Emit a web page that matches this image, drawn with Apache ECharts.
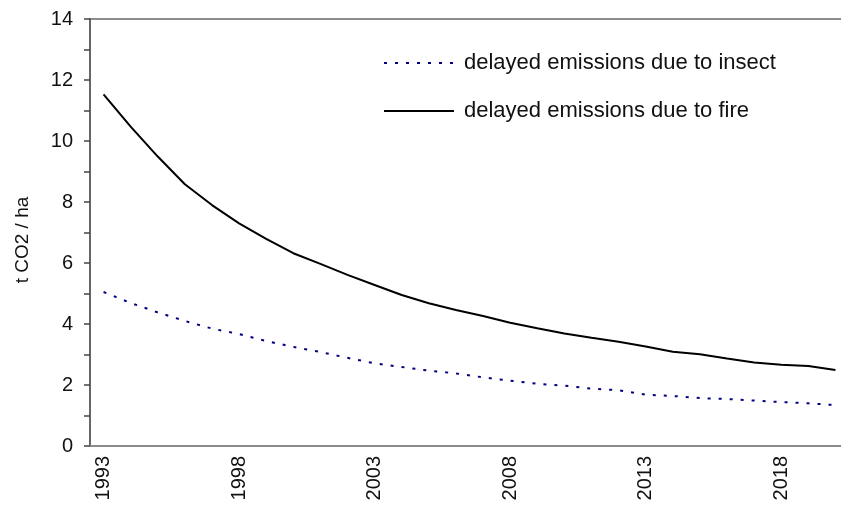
<!DOCTYPE html>
<html>
<head>
<meta charset="utf-8">
<script src="https://cdn.jsdelivr.net/npm/echarts@6/dist/echarts.min.js"></script>
<style>
  html, body { margin: 0; padding: 0; background: #fff; overflow: hidden; }
  #chart { width: 849px; height: 512px; }
</style>
</head>
<body>
<div id="chart"></div>
<script>
// years on the category axis
const years = [];
for (let y = 1993; y <= 2020; y++) years.push(String(y));

// values (t CO2 / ha)
const insect = [5.05, 4.69, 4.38, 4.10, 3.85, 3.67, 3.44, 3.25, 3.08, 2.89,
  2.71, 2.59, 2.47, 2.38, 2.25, 2.14, 2.04, 1.98, 1.88, 1.83,
  1.68, 1.64, 1.57, 1.54, 1.49, 1.44, 1.40, 1.34];
const fire = [11.53, 10.47, 9.49, 8.58, 7.90, 7.30, 6.79, 6.32, 5.97, 5.61,
  5.28, 4.95, 4.68, 4.46, 4.26, 4.04, 3.86, 3.69, 3.55, 3.42,
  3.26, 3.09, 3.01, 2.87, 2.74, 2.66, 2.62, 2.49];

const font = 'Liberation Sans, Arial, sans-serif';
const chart = echarts.init(document.getElementById('chart'));

chart.setOption({
  animation: false,
  grid: {
    left: 90,
    right: 0,
    top: 19,
    bottom: 66,
    show: true,
    borderColor: '#8c8c8c',
    borderWidth: 2
  },
  legend: {
    orient: 'vertical',
    left: 378,
    top: 47,
    itemWidth: 70,
    itemHeight: 14,
    itemGap: 26,
    itemStyle: { opacity: 0 },
    textStyle: { fontFamily: font, fontSize: 22, color: '#111', padding: [0, 0, 0, 5] },
    data: ['delayed emissions due to insect', 'delayed emissions due to fire']
  },
  xAxis: {
    type: 'category',
    data: years,
    boundaryGap: true,
    axisLine: { lineStyle: { color: '#8c8c8c', width: 2 } },
    axisTick: { interval: 0, length: 6, lineStyle: { color: '#8c8c8c', width: 2 } },
    axisLabel: {
      interval: 4,
      rotate: 90,
      margin: 10,
      fontFamily: font,
      fontSize: 20,
      color: '#111'
    },
    splitLine: { show: false }
  },
  yAxis: {
    type: 'value',
    min: 0,
    max: 14,
    interval: 1,
    name: 't CO2 / ha',
    nameLocation: 'middle',
    nameGap: 58,
    nameTextStyle: { fontFamily: font, fontSize: 19, color: '#111', padding: [0, 15, 0, 0] },
    axisLine: { show: true, lineStyle: { color: '#666', width: 2 } },
    axisTick: { show: true, length: 6, lineStyle: { color: '#444', width: 1.5 } },
    axisLabel: {
      margin: 17,
      fontFamily: font,
      fontSize: 20,
      color: '#111',
      formatter: v => (v % 2 === 0 ? String(v) : '')
    },
    splitLine: { show: false }
  },
  series: [
    {
      name: 'delayed emissions due to insect',
      type: 'line',
      data: insect,
      symbol: 'none',
      lineStyle: { color: '#000080', width: 2, type: [3, 8] },
      itemStyle: { color: '#000080' }
    },
    {
      name: 'delayed emissions due to fire',
      type: 'line',
      data: fire,
      symbol: 'none',
      lineStyle: { color: '#000', width: 2 },
      itemStyle: { color: '#000' }
    }
  ]
});
</script>
</body>
</html>
